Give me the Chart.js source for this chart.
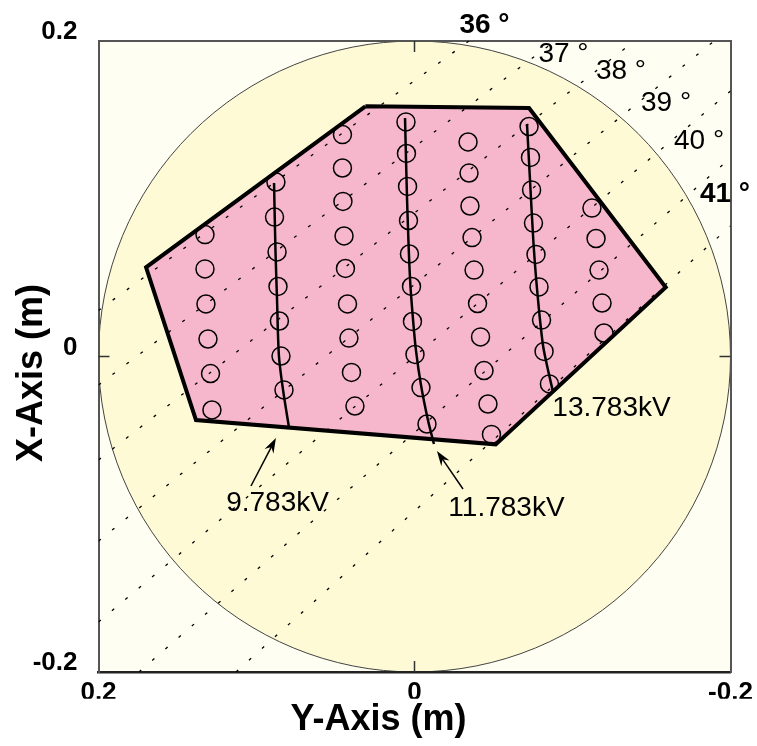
<!DOCTYPE html>
<html lang="en">
<head>
    <meta charset="UTF-8">
    <title>Aperture layout</title>
    <script src="https://cdn.jsdelivr.net/npm/chart.js"></script>
    <style>
        html, body { margin: 0; padding: 0; background: #fff; }
        #wrap { width: 757px; height: 746px; }
    </style>
</head>
<body>
    <div id="wrap"><canvas id="layoutChart" width="757" height="746"></canvas></div>

    <script>
        // Axis ticks (metres)
        const tickValues = [-0.2, 0, 0.2];
        const tickLabels = ['-0.2', '0', '0.2'];
        const frameTickValues = [0];

        // Aperture circle radius (m)
        const apertureRadius = 0.2;

        // Pink hull outline [Y-Axis, X-Axis]
        const hull = [[0.0311, 0.1586], [-0.0725, 0.1575], [-0.1590, 0.0439], [-0.0514, -0.0557],
                      [0.1383, -0.0403], [0.1699, 0.0565], [0.0311, 0.1586]];

        // Element positions, one column per array
        const col1 = [[0.1326, 0.0773], [0.1326, 0.0555], [0.1320, 0.0333], [0.1307, 0.0111], [0.1291, -0.0108], [0.1282, -0.0339]];
        const col2 = [[0.0877, 0.1106], [0.0886, 0.0884], [0.0870, 0.0663], [0.0864, 0.0444], [0.0855, 0.0225], [0.0845, 0.0003], [0.0826, -0.0212]];
        const col3 = [[0.0456, 0.1407], [0.0456, 0.1195], [0.0453, 0.0983], [0.0446, 0.0764], [0.0437, 0.0558],
                      [0.0424, 0.0333], [0.0415, 0.0117], [0.0399, -0.0101], [0.0377, -0.0314]];
        const col4 = [[0.0054, 0.1487], [0.0051, 0.1287], [0.0044, 0.1078], [0.0038, 0.0862], [0.0032, 0.0650],
                      [0.0019, 0.0444], [0.0013, 0.0222], [-0.0003, 0.0013], [-0.0041, -0.0197], [-0.0079, -0.0428]];
        const col5 = [[-0.0339, 0.1360], [-0.0345, 0.1163], [-0.0351, 0.0954], [-0.0364, 0.0754], [-0.0377, 0.0548],
                      [-0.0399, 0.0336], [-0.0418, 0.0124], [-0.0440, -0.0089], [-0.0465, -0.0301], [-0.0487, -0.0494]];
        const col6 = [[-0.0725, 0.1458], [-0.0734, 0.1262], [-0.0741, 0.1056], [-0.0753, 0.0846], [-0.0769, 0.0647],
                      [-0.0788, 0.0441], [-0.0804, 0.0231], [-0.0820, 0.0032], [-0.0854, -0.0174]];
        const col7 = [[-0.1123, 0.0941], [-0.1149, 0.0748], [-0.1168, 0.0548], [-0.1187, 0.0339], [-0.1199, 0.0149]];

        // Equipotential curves
        const curveNames = ['9.783kV', '11.783kV', '13.783kV'];
        const curve1 = [[0.0889, 0.1100], [0.0880, 0.0675], [0.0870, 0.0358], [0.0858, 0.0003], [0.0832, -0.0212], [0.0794, -0.0453]];
        const curve2 = [[0.0060, 0.1512], [0.0047, 0.0992], [0.0028, 0.0485], [0.0009, 0.0231], [-0.0009, 0.0041],
                        [-0.0041, -0.0181], [-0.0085, -0.0403], [-0.0123, -0.0555]];
        const curve3 = [[-0.0712, 0.1474], [-0.0731, 0.1119], [-0.0756, 0.0675], [-0.0782, 0.0358], [-0.0813, 0.0073],
                        [-0.0845, -0.0086], [-0.0877, -0.0225]];
        const curveLabelPos = [[0.0867, -0.0929], [-0.0582, -0.0964], [-0.1247, -0.0330]];
        const arrowFrom = [[0.1035, -0.0821], [-0.0307, -0.0840]];
        const arrowTo = [[0.0877, -0.0517], [-0.0142, -0.0599]];

        // Dotted angle lines (degrees) with end points
        const rayAngles = [36, 37, 38, 39, 40, 41, 42];
        const rayStart = [[0.2, 0.0292], [0.2, -0.0181], [0.2, -0.0656], [0.2, -0.117], [0.2, -0.1683], [0.1744, -0.2], [0.113, -0.2]];
        const rayEnd = [[-0.0345, 0.2], [-0.0889, 0.2], [-0.1392, 0.2], [-0.1896, 0.2], [-0.2, 0.1683], [-0.2, 0.1258], [-0.2, 0.0827]];
        const rayLabelPos = [[-0.0443, 0.2098], [-0.0943, 0.1918], [-0.1307, 0.1805], [-0.1592, 0.1605], [-0.1801, 0.1362], [-0.1965, 0.1030]];
        const rayLabelBold = [true, false, false, false, false, true];

        const FONT = '"Liberation Sans", Arial, sans-serif';
        Chart.defaults.font.family = FONT;
        Chart.defaults.color = '#000';

        const pts = arr => arr.map(p => ({x: p[0], y: p[1]}));

        // Plot background and aperture circle
        const backdrop = {
            id: 'backdrop',
            beforeDraw(chart) {
                const {ctx, chartArea: a, scales: {x, y}} = chart;
                ctx.save();
                ctx.fillStyle = '#fffef2';
                ctx.fillRect(a.left, a.top, a.right - a.left, a.bottom - a.top);
                const cx = x.getPixelForValue(0), cy = y.getPixelForValue(0);
                const rx = Math.abs(x.getPixelForValue(apertureRadius) - cx);
                const ry = Math.abs(y.getPixelForValue(apertureRadius) - cy);
                ctx.beginPath();
                ctx.ellipse(cx, cy, rx, ry, 0, 0, Math.PI * 2);
                ctx.fillStyle = '#fefad6';
                ctx.fill();
                ctx.lineWidth = 1;
                ctx.strokeStyle = '#444';
                ctx.stroke();
                ctx.restore();
            }
        };

        // Inward ticks, labels and arrows
        const overlay = {
            id: 'overlay',
            afterDatasetsDraw(chart) {
                const {ctx, chartArea: a, scales: {x, y}} = chart;
                ctx.save();
                ctx.strokeStyle = '#333';
                ctx.lineWidth = 1.5;
                frameTickValues.forEach(v => {
                    const px = x.getPixelForValue(v), py = y.getPixelForValue(v);
                    ctx.beginPath();
                    ctx.moveTo(px, a.bottom); ctx.lineTo(px, a.bottom - 11);
                    ctx.moveTo(px, a.top); ctx.lineTo(px, a.top + 11);
                    ctx.moveTo(a.left, py); ctx.lineTo(a.left + 11, py);
                    ctx.moveTo(a.right, py); ctx.lineTo(a.right - 11, py);
                    ctx.stroke();
                });

                ctx.fillStyle = '#000';
                ctx.strokeStyle = '#000';
                ctx.textAlign = 'center';
                ctx.textBaseline = 'middle';
                rayLabelPos.forEach((p, i) => {
                    ctx.font = (rayLabelBold[i] ? 'bold ' : '') + '28px ' + FONT;
                    ctx.fillText(rayAngles[i] + ' \u00b0', x.getPixelForValue(p[0]), y.getPixelForValue(p[1]));
                });
                ctx.font = '28px ' + FONT;
                curveLabelPos.forEach((p, i) => {
                    ctx.fillText(curveNames[i], x.getPixelForValue(p[0]), y.getPixelForValue(p[1]));
                });

                arrowFrom.forEach((p, i) => {
                    const x0 = x.getPixelForValue(p[0]), y0 = y.getPixelForValue(p[1]);
                    const x1 = x.getPixelForValue(arrowTo[i][0]), y1 = y.getPixelForValue(arrowTo[i][1]);
                    const ang = Math.atan2(y1 - y0, x1 - x0);
                    const c = Math.cos(ang), s = Math.sin(ang);
                    ctx.lineWidth = 1.5;
                    ctx.beginPath();
                    ctx.moveTo(x0, y0);
                    ctx.lineTo(x1 - 9 * c, y1 - 9 * s);
                    ctx.stroke();
                    ctx.beginPath();
                    ctx.moveTo(x1, y1);
                    ctx.lineTo(x1 - 15 * c + 5 * s, y1 - 15 * s - 5 * c);
                    ctx.lineTo(x1 - 10 * c, y1 - 10 * s);
                    ctx.lineTo(x1 - 15 * c - 5 * s, y1 - 15 * s + 5 * c);
                    ctx.closePath();
                    ctx.fill();
                });
                ctx.restore();
            }
        };

        const datasets = [];
        // hull fill
        datasets.push({
            data: pts(hull), showLine: true, fill: 'shape', backgroundColor: '#f6b6cb',
            borderWidth: 0, borderColor: 'rgba(0,0,0,0)', pointRadius: 0, order: 6
        });
        // dotted angle lines
        rayAngles.forEach((deg, i) => {
            datasets.push({
                label: deg + '\u00b0', data: pts([rayStart[i], rayEnd[i]]), showLine: true,
                borderColor: '#000', borderWidth: 1.3, borderDash: [3, 14.5], pointRadius: 0, clip: 0, order: 5
            });
        });
        // hull outline
        datasets.push({
            data: pts(hull), showLine: true, fill: false, borderColor: '#000', borderWidth: 4,
            borderJoinStyle: 'miter', pointRadius: 0, order: 4
        });
        // equipotential curves
        [curve1, curve2, curve3].forEach((c, i) => {
            datasets.push({
                label: curveNames[i], data: pts(c), showLine: true, borderColor: '#000', borderWidth: 2.5,
                tension: 0.3, pointRadius: 0, order: 3
            });
        });
        // elements
        datasets.push({
            data: pts([...col1, ...col2, ...col3, ...col4, ...col5, ...col6, ...col7]),
            showLine: false, pointRadius: 9, pointBorderWidth: 1.5, pointBorderColor: '#000',
            pointBackgroundColor: 'rgba(0,0,0,0)', order: 1
        });

        const tickFont = {size: 26, weight: 'bold'};
        const frameAxis = (w) => ({
            ticks: {display: false},
            grid: {drawOnChartArea: false, drawTicks: false},
            border: {color: '#555', width: w}
        });

        new Chart(document.getElementById('layoutChart'), {
            type: 'scatter',
            data: {datasets},
            plugins: [backdrop, overlay],
            options: {
                responsive: false,
                animation: false,
                events: [],
                layout: {padding: 0},
                plugins: {
                    legend: {display: false},
                    tooltip: {enabled: false},
                    title: {
                        display: true, position: 'bottom', text: 'Y-Axis (m)', color: '#000',
                        font: {size: 36, weight: 'bold'}, padding: {top: 0, bottom: 4}
                    },
                    subtitle: {
                        // narrow box so the y tick labels are not clipped
                        display: true, position: 'left', text: 'X-Axis (m)', color: '#000',
                        font: {size: 36, weight: 'bold'}, padding: {top: 10, bottom: -24}
                    }
                },
                scales: {
                    x: {
                        type: 'linear', position: 'bottom', reverse: true, min: -0.2, max: 0.2,
                        afterBuildTicks: s => { s.ticks = tickValues.map(v => ({value: v})); },
                        afterFit: s => { s.height = 26.8; },
                        ticks: {
                            callback: (v, i) => tickLabels[i], font: tickFont, color: '#000',
                            padding: 5, maxRotation: 0, autoSkip: false
                        },
                        grid: {drawOnChartArea: false, drawTicks: false},
                        border: {color: '#222', width: 2.5}
                    },
                    y: {
                        type: 'linear', position: 'left', min: -0.2, max: 0.2,
                        afterBuildTicks: s => { s.ticks = tickValues.map(v => ({value: v})); },
                        afterFit: s => { s.width = 69.3; },
                        ticks: {
                            callback: (v, i) => tickLabels[i], font: tickFont, color: '#000',
                            padding: 21, labelOffset: -9, autoSkip: false
                        },
                        grid: {drawOnChartArea: false, drawTicks: false},
                        border: {color: '#555', width: 2}
                    },
                    x2: Object.assign({position: 'top', afterFit: s => { s.height = 41; }}, frameAxis(2)),
                    y2: Object.assign({position: 'right', afterFit: s => { s.width = 26.5; }}, frameAxis(2))
                }
            }
        });
    </script>
</body>
</html>
